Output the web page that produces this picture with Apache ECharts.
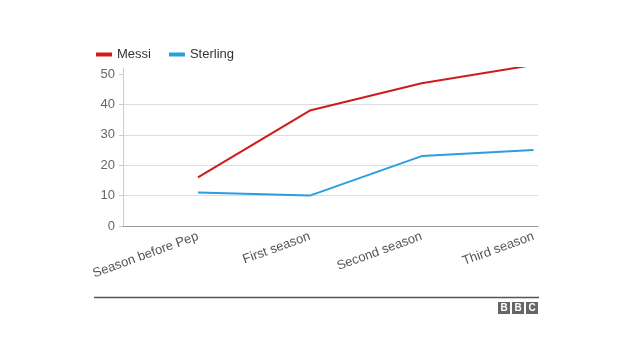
<!DOCTYPE html>
<html><head><meta charset="utf-8">
<script src="https://cdn.jsdelivr.net/npm/echarts@6/dist/echarts.min.js"></script>
<style>html,body{margin:0;padding:0;background:#fff}#c{width:640px;height:360px}</style>
</head><body><div id="c"></div>
<script>
const categories = ['Season before Pep', 'First season', 'Second season', 'Third season'];
const messi = [16, 38, 47, 53];
const sterling = [11, 10, 23, 25];
const yTicks = [0, 10, 20, 30, 40, 50];

const chart = echarts.init(document.getElementById('c'));
const idx = categories.map((_, i) => i);
const font = 'Liberation Sans, Arial, sans-serif';
chart.setOption({
  animation: false,
  textStyle: {fontFamily: font},
  legend: {
    left: 91, top: 43, icon: 'rect', itemWidth: 16, itemHeight: 4, itemGap: 18,
    textStyle: {fontSize: 13, color: '#333', fontFamily: font},
    data: ['Messi', 'Sterling']
  },
  grid: {left: 123, right: 102, top: 68, bottom: 134},
  xAxis: {
    type: 'value', min: -0.67, max: 3.04,
    splitLine: {show: false},
    axisLine: {show: true, onZero: false, lineStyle: {color: '#999', width: 1}},
    axisTick: {show: false},
    axisLabel: {
      customValues: idx, rotate: 20, fontSize: 13, color: '#555', margin: 10,
      fontFamily: font,
      formatter: v => categories[Math.round(v)]
    }
  },
  yAxis: {
    type: 'value', min: 0, max: 52, interval: 10,
    axisLine: {show: true, onZero: false, lineStyle: {color: '#ccc'}},
    axisTick: {show: true, length: 4, lineStyle: {color: '#ccc'}, customValues: yTicks},
    splitLine: {lineStyle: {color: '#ddd'}, showMaxLine: false, showMinLine: false},
    axisLabel: {
      fontSize: 13, color: '#666', margin: 8, fontFamily: font,
      customValues: yTicks
    }
  },
  series: [
    {name: 'Messi', type: 'line', data: idx.map(i => [i, messi[i]]), showSymbol: false,
     color: '#cf1b1b', lineStyle: {width: 2}},
    {name: 'Sterling', type: 'line', data: idx.map(i => [i, sterling[i]]), showSymbol: false,
     color: '#2a9fe0', lineStyle: {width: 2}}
  ],
  graphic: [
    {type: 'line', shape: {x1: 94, y1: 297.5, x2: 539, y2: 297.5}, style: {stroke: '#555', lineWidth: 1.5}},
    {type: 'rect', shape: {x: 498, y: 302, width: 12, height: 12}, style: {fill: '#666'}},
    {type: 'rect', shape: {x: 512, y: 302, width: 12, height: 12}, style: {fill: '#666'}},
    {type: 'rect', shape: {x: 526, y: 302, width: 12, height: 12}, style: {fill: '#666'}},
    {type: 'text', x: 504, y: 308, style: {text: 'B', fill: '#fff', font: 'bold 10px ' + font, align: 'center', verticalAlign: 'middle'}},
    {type: 'text', x: 518, y: 308, style: {text: 'B', fill: '#fff', font: 'bold 10px ' + font, align: 'center', verticalAlign: 'middle'}},
    {type: 'text', x: 532, y: 308, style: {text: 'C', fill: '#fff', font: 'bold 10px ' + font, align: 'center', verticalAlign: 'middle'}}
  ]
});
</script></body></html>
